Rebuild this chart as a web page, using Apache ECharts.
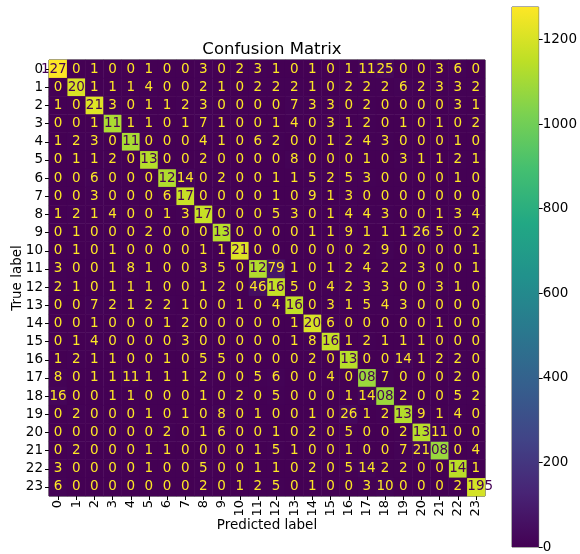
<!DOCTYPE html>
<html>
<head>
<meta charset="utf-8">
<script src="https://cdn.jsdelivr.net/npm/echarts@6.0.0/dist/echarts.min.js"></script>
<style>
  html, body { margin: 0; padding: 0; background: #fff; }
  #chart { width: 580px; height: 554px; }
</style>
</head>
<body>
<div id="chart"></div>
<script>
// class labels (same for both axes)
var classLabels = ['0','1','2','3','4','5','6','7','8','9','10','11','12','13','14','15','16','17','18','19','20','21','22','23'];

// confusion matrix, one row per true label
var cm = [
  [1277,0,1,0,0,1,0,0,3,0,2,3,1,0,1,0,1,11,25,0,0,3,6,0],
  [0,1205,1,1,1,4,0,0,2,1,0,2,2,2,1,0,2,2,2,6,2,3,3,2],
  [1,0,1215,3,0,1,1,2,3,0,0,0,0,7,3,3,0,2,0,0,0,0,3,1],
  [0,0,1,1115,1,1,0,1,7,1,0,0,1,4,0,3,1,2,0,1,0,1,0,2],
  [1,2,3,0,1112,0,0,0,4,1,0,6,2,0,0,1,2,4,3,0,0,0,1,0],
  [0,1,1,2,0,1134,0,0,2,0,0,0,0,8,0,0,0,1,0,3,1,1,2,1],
  [0,0,6,0,0,0,1125,14,0,2,0,0,1,1,5,2,5,3,0,0,0,0,1,0],
  [0,0,3,0,0,0,6,1172,0,0,0,0,1,0,9,1,3,0,0,0,0,0,0,0],
  [1,2,1,4,0,0,1,3,1170,0,0,0,5,3,0,1,4,4,3,0,0,1,3,4],
  [0,1,0,0,0,2,0,0,0,1136,0,0,0,0,1,1,9,1,1,1,26,5,0,2],
  [0,1,0,1,0,0,0,0,1,1,1213,0,0,0,0,0,0,2,9,0,0,0,0,1],
  [3,0,0,1,8,1,0,0,3,5,0,1127,79,1,0,1,2,4,2,2,3,0,0,1],
  [2,1,0,1,1,1,0,0,1,2,0,46,1163,5,0,4,2,3,3,0,0,3,1,0],
  [0,0,7,2,1,2,2,1,0,0,1,0,4,1160,0,3,1,5,4,3,0,0,0,0],
  [0,0,1,0,0,0,1,2,0,0,0,0,0,1,1204,6,0,0,0,0,0,1,0,0],
  [0,1,4,0,0,0,0,3,0,0,0,0,0,1,8,1165,1,2,1,1,1,0,0,0],
  [1,2,1,1,0,0,1,0,5,5,0,0,0,0,2,0,1138,0,0,14,1,2,2,0],
  [8,0,1,1,11,1,1,1,2,0,0,5,6,0,0,4,0,1084,7,0,0,0,2,0],
  [16,0,0,1,1,0,0,0,1,0,2,0,5,0,0,0,1,14,1086,2,0,0,5,2],
  [0,2,0,0,0,1,0,1,0,8,0,1,0,0,1,0,26,1,2,1132,9,1,4,0],
  [0,0,0,0,0,0,2,0,1,6,0,0,1,0,2,0,5,0,0,2,1137,11,0,0],
  [0,2,0,0,0,1,1,0,0,0,0,1,5,1,0,0,1,0,0,7,21,1081,0,4],
  [3,0,0,0,0,1,0,0,5,0,0,1,1,0,2,0,5,14,2,2,0,0,1144,1],
  [6,0,0,0,0,0,0,0,2,0,1,2,5,0,1,0,0,3,10,0,0,0,2,1195]
];

// colorbar
var cbTicks = [0, 200, 400, 600, 800, 1000, 1200];
var viridis = ['#440154','#482475','#414487','#355f8d','#2a788e','#21918c','#22a884','#44bf70','#7ad151','#bddf26','#fde725'];

var chart = echarts.init(document.getElementById('chart'));

var vmax = 0;
for (var i = 0; i < cm.length; i++) {
  for (var j = 0; j < cm[i].length; j++) {
    if (cm[i][j] > vmax) vmax = cm[i][j];
  }
}
var thresh = vmax / 2;

// diagonal first so the off-diagonal texts sit on top of its overflow
var diagData = [], offData = [];
for (var i = 0; i < cm.length; i++) {
  for (var j = 0; j < cm[i].length; j++) {
    var v = cm[i][j];
    var item = {
      value: [j, i, v],
      label: { color: v > thresh ? '#440154' : '#fde725' }
    };
    if (v > thresh) diagData.push(item); else offData.push(item);
  }
}
var cellData = diagData.concat(offData);

var gradStops = viridis.map(function (c, k) {
  return { offset: k / (viridis.length - 1), color: c };
});

var font = 'DejaVu Sans';

var option = {
  animation: false,
  backgroundColor: '#fff',
  title: {
    text: 'Confusion Matrix',
    left: 267,
    top: 36,
    textAlign: 'center',
    textStyle: { fontFamily: font, fontSize: 16.5, fontWeight: 'normal', color: '#000' }
  },
  grid: [
    { left: 49, top: 60, width: 436, height: 436, show: true, borderColor: '#222', borderWidth: 1, backgroundColor: 'transparent' },
    { left: 512, top: 7, width: 27, height: 541, show: true, borderColor: '#555', borderWidth: 1, backgroundColor: 'transparent' }
  ],
  xAxis: [
    {
      type: 'category',
      gridIndex: 0,
      data: classLabels,
      position: 'bottom',
      name: 'Predicted label',
      nameLocation: 'middle',
      nameGap: 22,
      nameMoveOverlap: false,
      nameTextStyle: { fontFamily: font, fontSize: 13.5, color: '#000' },
      axisLine: { show: false },
      axisTick: { show: true, alignWithLabel: true, length: 4, lineStyle: { color: '#000' } },
      axisLabel: { rotate: 90, fontFamily: font, fontSize: 13, color: '#000', margin: 4, interval: 0 },
      splitLine: { show: false }
    },
    {
      type: 'category',
      gridIndex: 1,
      data: ['cb'],
      show: false
    }
  ],
  yAxis: [
    {
      type: 'category',
      gridIndex: 0,
      data: classLabels,
      inverse: true,
      name: 'True label',
      nameLocation: 'middle',
      nameRotate: 90,
      nameGap: 25,
      nameMoveOverlap: false,
      nameTextStyle: { fontFamily: font, fontSize: 13.5, color: '#000' },
      axisLine: { show: false },
      axisTick: { show: true, alignWithLabel: true, length: 4, lineStyle: { color: '#000' } },
      axisLabel: { fontFamily: font, fontSize: 13.5, color: '#000', margin: 6, interval: 0 },
      splitLine: { show: false }
    },
    {
      type: 'value',
      gridIndex: 1,
      position: 'right',
      min: 0,
      max: vmax,
      axisLine: { show: false },
      axisTick: { show: true, length: 4, lineStyle: { color: '#000' }, customValues: cbTicks },
      axisLabel: {
        fontFamily: font, fontSize: 13.5, color: '#000', margin: 4, customValues: cbTicks,
        formatter: function (val) { return String(val); }
      },
      splitLine: { show: false }
    }
  ],
  visualMap: {
    type: 'continuous',
    show: false,
    min: 0,
    max: vmax,
    seriesIndex: 0,
    inRange: { color: viridis }
  },
  series: [
    {
      type: 'heatmap',
      xAxisIndex: 0,
      yAxisIndex: 0,
      data: cellData,
      label: {
        show: true,
        fontFamily: font,
        fontSize: 13.5,
        formatter: function (p) { return p.value[2]; }
      },
      itemStyle: { borderWidth: 0 },
      emphasis: { disabled: true }
    },
    {
      type: 'bar',
      xAxisIndex: 1,
      yAxisIndex: 1,
      data: [vmax],
      barWidth: '100%',
      silent: true,
      itemStyle: {
        color: new echarts.graphic.LinearGradient(0, 1, 0, 0, gradStops)
      }
    }
  ]
};

chart.setOption(option);
</script>
</body>
</html>
